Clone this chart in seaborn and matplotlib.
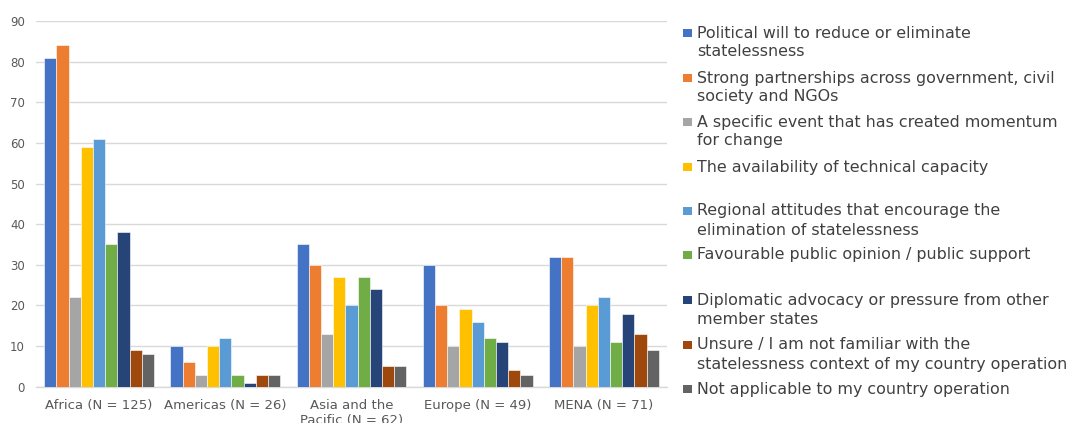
import matplotlib
matplotlib.use("Agg")
import matplotlib.pyplot as plt
from matplotlib.patches import Rectangle
import pandas as pd
import seaborn as sns

regions = ["Africa (N = 125)", "Americas (N = 26)", "Asia and the\nPacific (N = 62)",
           "Europe (N = 49)", "MENA (N = 71)"]

factors = [
    "Political will to reduce or eliminate\nstatelessness",
    "Strong partnerships across government, civil\nsociety and NGOs",
    "A specific event that has created momentum\nfor change",
    "The availability of technical capacity",
    "Regional attitudes that encourage the\nelimination of statelessness",
    "Favourable public opinion / public support",
    "Diplomatic advocacy or pressure from other\nmember states",
    "Unsure / I am not familiar with the\nstatelessness context of my country operation",
    "Not applicable to my country operation",
]

political_will = [81, 10, 35, 30, 32]
partnerships = [84, 6, 30, 20, 32]
specific_event = [22, 3, 13, 10, 10]
technical_capacity = [59, 10, 27, 19, 20]
regional_attitudes = [61, 12, 20, 16, 22]
public_opinion = [35, 3, 27, 12, 11]
diplomatic_advocacy = [38, 1, 24, 11, 18]
unsure = [9, 3, 5, 4, 13]
not_applicable = [8, 3, 5, 3, 9]

series = [political_will, partnerships, specific_event, technical_capacity,
          regional_attitudes, public_opinion, diplomatic_advocacy, unsure, not_applicable]

colors = ["#4472C4", "#ED7D31", "#A5A5A5", "#FFC000", "#5B9BD5",
          "#70AD47", "#264478", "#9E480E", "#636363"]

rows = []
for factor, vals in zip(factors, series):
    for region, v in zip(regions, vals):
        rows.append({"region": region, "factor": factor, "count": v})
df = pd.DataFrame(rows)

sns.set_style("white")
plt.rcParams["font.family"] = ["DejaVu Sans"]

W, H = 1066, 423
fig = plt.figure(figsize=(W / 100, H / 100), dpi=100)
ax = fig.add_axes([36 / W, (H - 386.7) / H, 631 / W, (386.7 - 21) / H])

sns.barplot(data=df, x="region", y="count", hue="factor", hue_order=factors,
            order=regions, palette=colors, saturation=1, width=0.87,
            edgecolor="white", linewidth=0.4, legend=False, ax=ax, zorder=3)

ax.set_ylim(0, 90)
ax.set_xlim(-0.5, 4.5)
ax.set_yticks(range(0, 91, 10))
ax.yaxis.grid(True, color="#D9D9D9", linewidth=1, zorder=0)
ax.set_axisbelow(True)
for side in ["left", "right", "top"]:
    ax.spines[side].set_visible(False)
ax.spines["bottom"].set_color("#D9D9D9")
ax.spines["bottom"].set_linewidth(1)
ax.tick_params(axis="y", length=0, pad=8, labelsize=8.5, labelcolor="#595959")
ax.tick_params(axis="x", length=0, pad=9, labelsize=9.5, labelcolor="#595959")
ax.set_xlabel("")
ax.set_ylabel("")

# legend drawn at the right of the plot area
first_line_y = [33, 78, 122, 167, 211, 255, 300, 345, 389]
for factor, color, y in zip(factors, colors, first_line_y):
    fig.add_artist(Rectangle((683 / W, 1 - (y + 4) / H), 9 / W, 8 / H,
                             transform=fig.transFigure, facecolor=color,
                             edgecolor="none"))
    for i, line in enumerate(factor.split("\n")):
        fig.text(697 / W, 1 - (y + 19 * i) / H, line, ha="left", va="center",
                 fontsize=11.4, color="#404040")

fig.savefig("out.png", dpi=100)
